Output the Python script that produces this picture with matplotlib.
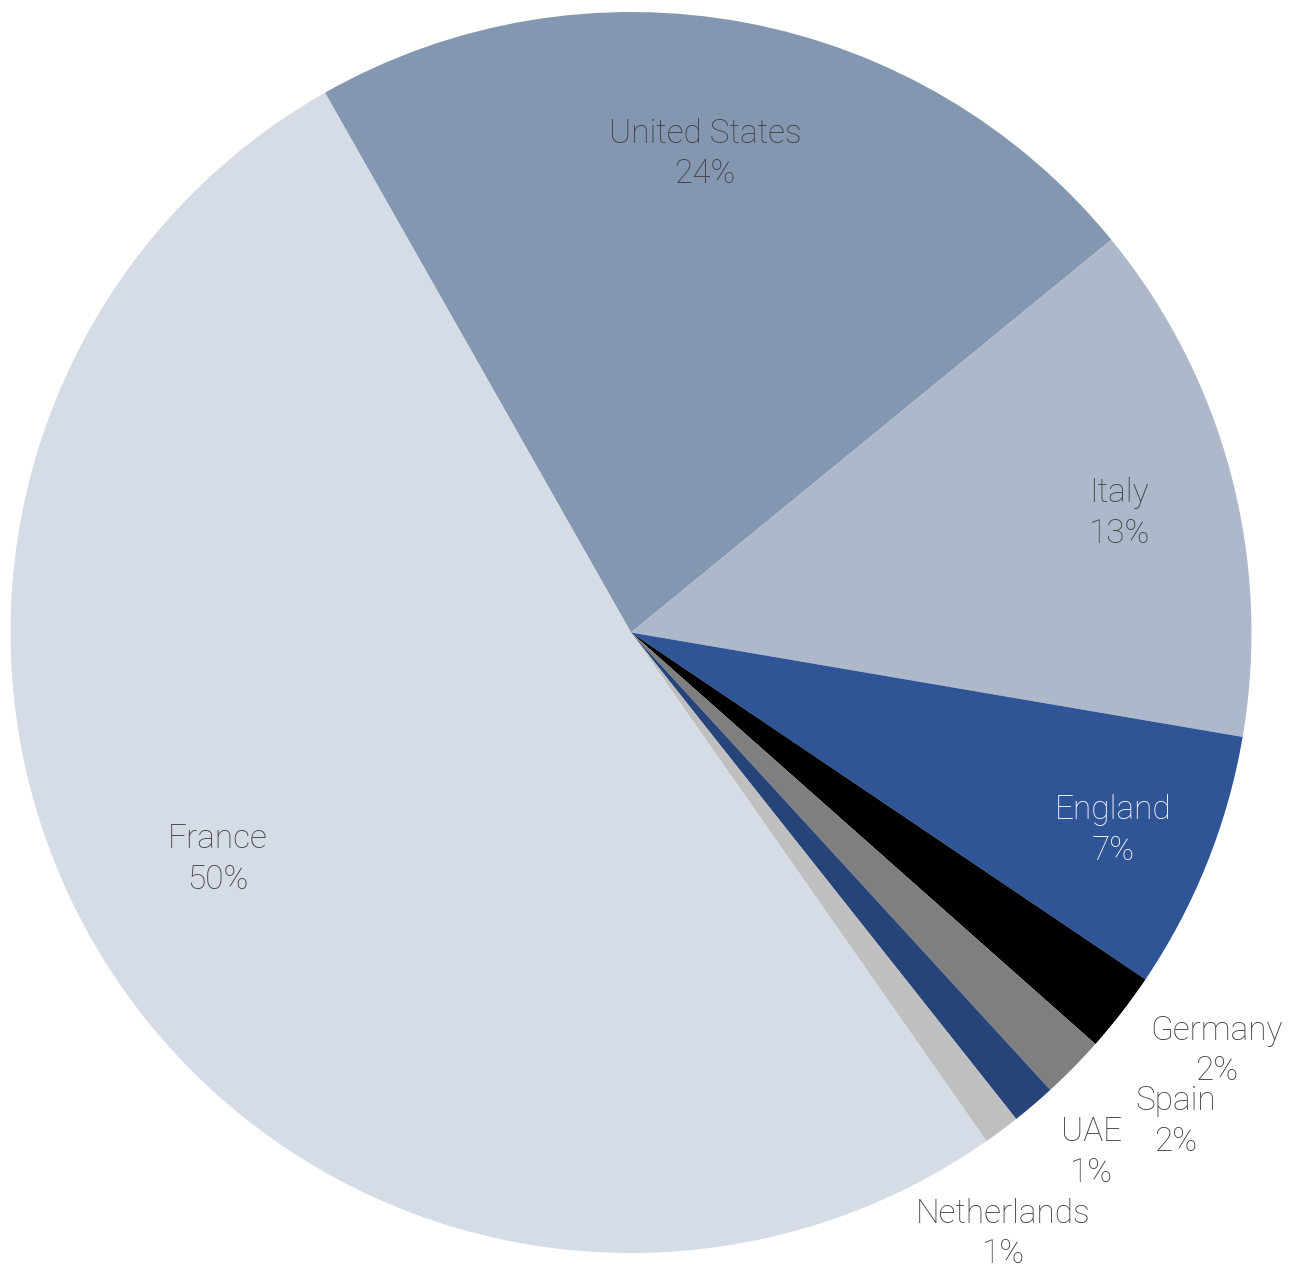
import numpy as np
import matplotlib
matplotlib.use('Agg')
from matplotlib import pyplot as plt

plt.rcParams['font.family'] = ['Roboto', 'DejaVu Sans']

# wedge sizes (clockwise from the US/France edge)
countries = ['United States', 'Italy', 'England', 'Germany', 'Spain', 'UAE', 'Netherlands', 'France']
shares = [22.3, 13.6, 6.75, 2.1, 1.65, 1.15, 0.95, 51.5]
pct_labels = ['24%', '13%', '7%', '2%', '2%', '1%', '1%', '50%']
colors = ['#8497B0', '#ADB9CA', '#2F5597', '#000000', '#7F7F7F', '#264478', '#BFBFBF', '#D6DCE5']
text_colors = ['#3F3F3F', '#3F3F3F', '#FFFFFF', '#3F3F3F', '#3F3F3F', '#3F3F3F', '#3F3F3F', '#3F3F3F']

# label placement: (radius, angle shift from wedge middle in degrees)
label_place = [(0.78, 1.8), (0.81, -1.1), (0.84, -0.5), (1.16, 2.2),
               (1.18, 2.6), (1.12, 1.1), (1.14, -4.9), (0.76, -3.5)]

W, H = 1290, 1284
cx, cy, R = 631, 632.5, 620.5

fig = plt.figure(figsize=(W / 100, H / 100), dpi=100)
ax = fig.add_axes([0, 0, 1, 1])

wedges, _ = ax.pie(shares, colors=colors, startangle=119.55, counterclock=False,
                   radius=1, wedgeprops=dict(linewidth=0))

for w, name, pct, tc, (r, shift) in zip(wedges, countries, pct_labels, text_colors, label_place):
    mid = np.deg2rad((w.theta1 + w.theta2) / 2 + shift)
    ax.text(r * np.cos(mid), r * np.sin(mid), '{}\n{}'.format(name, pct),
            ha='center', va='center', fontsize=24, color=tc,
            fontweight='light', linespacing=1.34)

ax.set_xlim(-cx / R, (W - cx) / R)
ax.set_ylim(-(H - cy) / R, cy / R)
ax.set_aspect('equal')
ax.axis('off')

fig.savefig('out.png', dpi=100)
